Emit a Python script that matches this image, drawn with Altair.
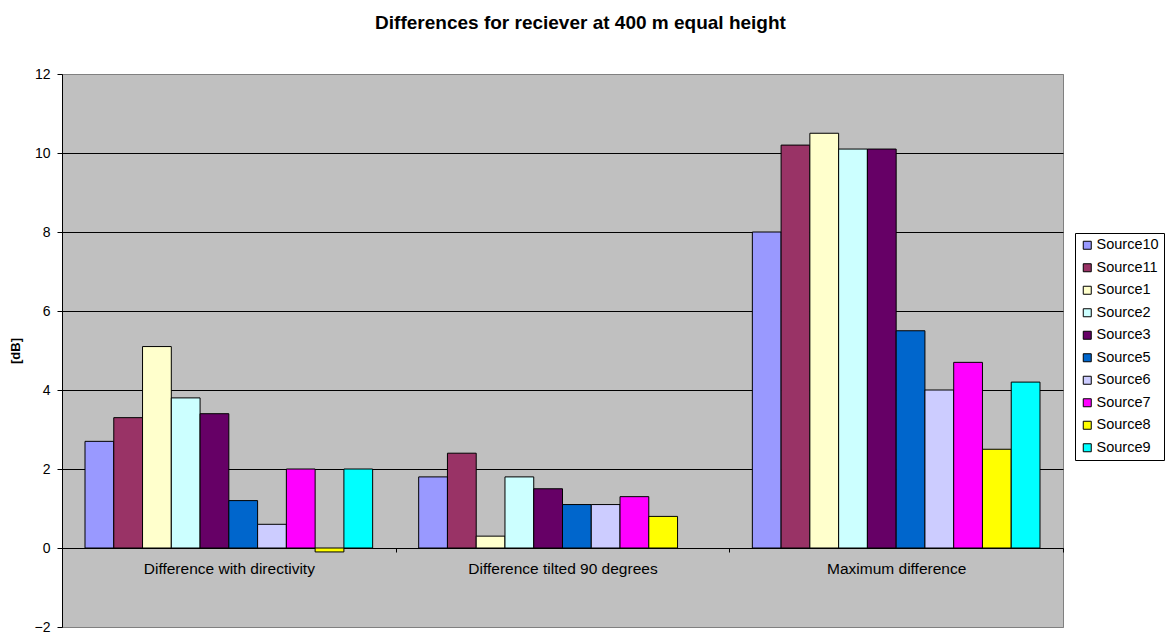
import altair as alt
import pandas as pd

# Category groups along the x axis
groups = ["Difference with directivity", "Difference tilted 90 degrees", "Maximum difference"]

# Series (sources), in legend order
sources = ["Source10", "Source11", "Source1", "Source2", "Source3",
           "Source5", "Source6", "Source7", "Source8", "Source9"]

# Classic spreadsheet palette for the sources
colors = ["#9999FF", "#993366", "#FFFFCC", "#CCFFFF", "#660066",
          "#0066CC", "#CCCCFF", "#FF00FF", "#FFFF00", "#00FFFF"]

# Values in dB per group, one entry per source (None = no value)
directivity = [2.7, 3.3, 5.1, 3.8, 3.4, 1.2, 0.6, 2.0, -0.1, 2.0]
tilted = [1.8, 2.4, 0.3, 1.8, 1.5, 1.1, 1.1, 1.3, 0.8, None]
maximum = [8.0, 10.2, 10.5, 10.1, 10.1, 5.5, 4.0, 4.7, 2.5, 4.2]

rows = []
for g, vals in zip(groups, [directivity, tilted, maximum]):
    for s, v in zip(sources, vals):
        if v is not None:
            rows.append({"group": g, "source": s, "value": v})
df = pd.DataFrame(rows)

FONT = "Liberation Sans"
W, H = 1001, 553
px_per_unit = H / 14.0

bars = alt.Chart(df).mark_bar(stroke="black", strokeWidth=1).encode(
    x=alt.X(
        "group:N",
        sort=groups,
        scale=alt.Scale(paddingInner=0, paddingOuter=0),
        axis=alt.Axis(
            title=None,
            orient="bottom",
            offset=-2 * px_per_unit,
            labelAngle=0,
            labelFontSize=15.5,
            labelColor="black",
            labelPadding=9,
            labelLimit=0,
            domainColor="black",
            tickColor="black",
            tickSize=4,
            tickBand="extent",
            grid=False,
        ),
    ),
    xOffset=alt.XOffset(
        "source:N",
        sort=sources,
        scale=alt.Scale(domain=sources, paddingOuter=0.8, paddingInner=0),
    ),
    y=alt.Y(
        "value:Q",
        scale=alt.Scale(domain=[-2, 12], nice=False, zero=True),
        axis=alt.Axis(
            values=list(range(-2, 13, 2)),
            title="[dB]",
            titleFontSize=13,
            titleFontWeight="bold",
            titleColor="black",
            titlePadding=12,
            labelFontSize=14,
            labelColor="black",
            labelPadding=7,
            tickSize=5,
            tickColor="black",
            domainColor="black",
            grid=True,
            gridColor={"condition": {"test": "datum.value >= 12 || datum.value <= -2",
                                     "value": "#808080"},
                       "value": "black"},
            gridWidth=1,
        ),
    ),
    color=alt.Color(
        "source:N",
        sort=sources,
        scale=alt.Scale(domain=sources, range=colors),
        legend=alt.Legend(
            title=None,
            orient="none",
            legendX=1013,
            legendY=159,
            direction="vertical",
            strokeColor="black",
            fillColor="white",
            padding=5,
            symbolType="square",
            symbolSize=64,
            symbolStrokeColor="black",
            symbolStrokeWidth=1,
            symbolOpacity=1,
            labelFontSize=14.5,
            labelColor="black",
            labelOffset=2,
            labelLimit=0,
            rowPadding=7.5,
        ),
    ),
)

chart = bars.properties(
    width=W,
    height=H,
    title=alt.TitleParams(
        "Differences for reciever at 400 m equal height",
        fontSize=19,
        fontWeight="bold",
        color="black",
        anchor="middle",
        frame="group",
        dx=18,
        offset=34,
    ),
    autosize=alt.AutoSizeParams(type="none"),
    padding={"left": 62, "top": 74, "right": 1168 - 62 - W, "bottom": 633 - 74 - H},
).configure(
    font=FONT,
    background="white",
).configure_view(
    stroke="#808080",
    strokeWidth=1,
    fill="#C0C0C0",
)

chart.save("out.html", embed_options={"renderer": "svg", "actions": False})
